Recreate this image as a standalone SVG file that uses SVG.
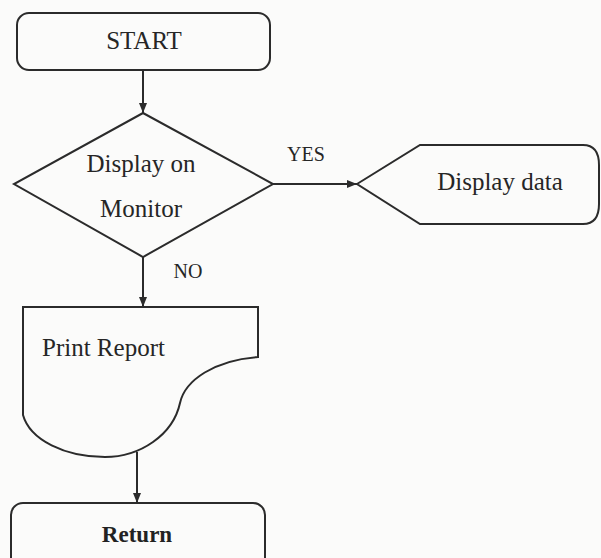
<svg xmlns="http://www.w3.org/2000/svg" width="601" height="558" viewBox="0 0 601 558">
<style>
.shape{fill:none;stroke:#2b2b2b;stroke-width:2}
.lbl{font-family:"Liberation Serif","Times New Roman",serif;font-size:25px;fill:#262626}
.small{font-family:"Liberation Serif","Times New Roman",serif;font-size:20px;fill:#262626}
.bold{font-family:"Liberation Serif","Times New Roman",serif;font-size:23px;font-weight:bold;fill:#222}
.conn{stroke:#2b2b2b;stroke-width:2;fill:none}
</style>
<defs>
<marker id="arr" markerWidth="10" markerHeight="10" refX="10" refY="5" orient="auto" markerUnits="userSpaceOnUse">
<path d="M0,1 L10,5 L0,9 Z" fill="#2b2b2b"/>
</marker>
</defs>
<rect x="0" y="0" width="601" height="558" fill="#fbfbfa"/>
<g id="start">
<rect class="shape" x="17" y="13" width="253" height="57" rx="12"/>
<text class="lbl" x="144" y="49" text-anchor="middle">START</text>
</g>
<g id="decision">
<path class="shape" d="M143,113 L273,184 L143,257 L14,184 Z"/>
<text class="lbl" x="141" y="172" text-anchor="middle">Display on</text>
<text class="lbl" x="141" y="217" text-anchor="middle">Monitor</text>
</g>
<g id="display">
<path class="shape" d="M357,184 L420,145 L583,145 Q599,145 599,165 L599,204 Q599,224 583,224 L420,224 Z"/>
<text class="lbl" x="500" y="190" text-anchor="middle">Display data</text>
</g>
<g id="print">
<path class="shape" d="M23,307 L258,307 L258,357 C215,360 185,380 180,403 C173,435 140,457 105,457 C65,457 30,440 23,415 Z"/>
<text class="lbl" x="42" y="356">Print Report</text>
</g>
<g id="return">
<rect class="shape" x="11" y="503" width="254" height="70" rx="12"/>
<text class="bold" x="137" y="542" text-anchor="middle">Return</text>
</g>
<g id="connectors">
<line class="conn" x1="143" y1="70" x2="143" y2="113" marker-end="url(#arr)"/>
<line class="conn" x1="273" y1="184" x2="357" y2="184" marker-end="url(#arr)"/>
<line class="conn" x1="143" y1="257" x2="143" y2="307" marker-end="url(#arr)"/>
<line class="conn" x1="137" y1="452" x2="137" y2="503" marker-end="url(#arr)"/>
<text class="small" x="306" y="161" text-anchor="middle">YES</text>
<text class="small" x="188" y="278" text-anchor="middle">NO</text>
</g>
</svg>
